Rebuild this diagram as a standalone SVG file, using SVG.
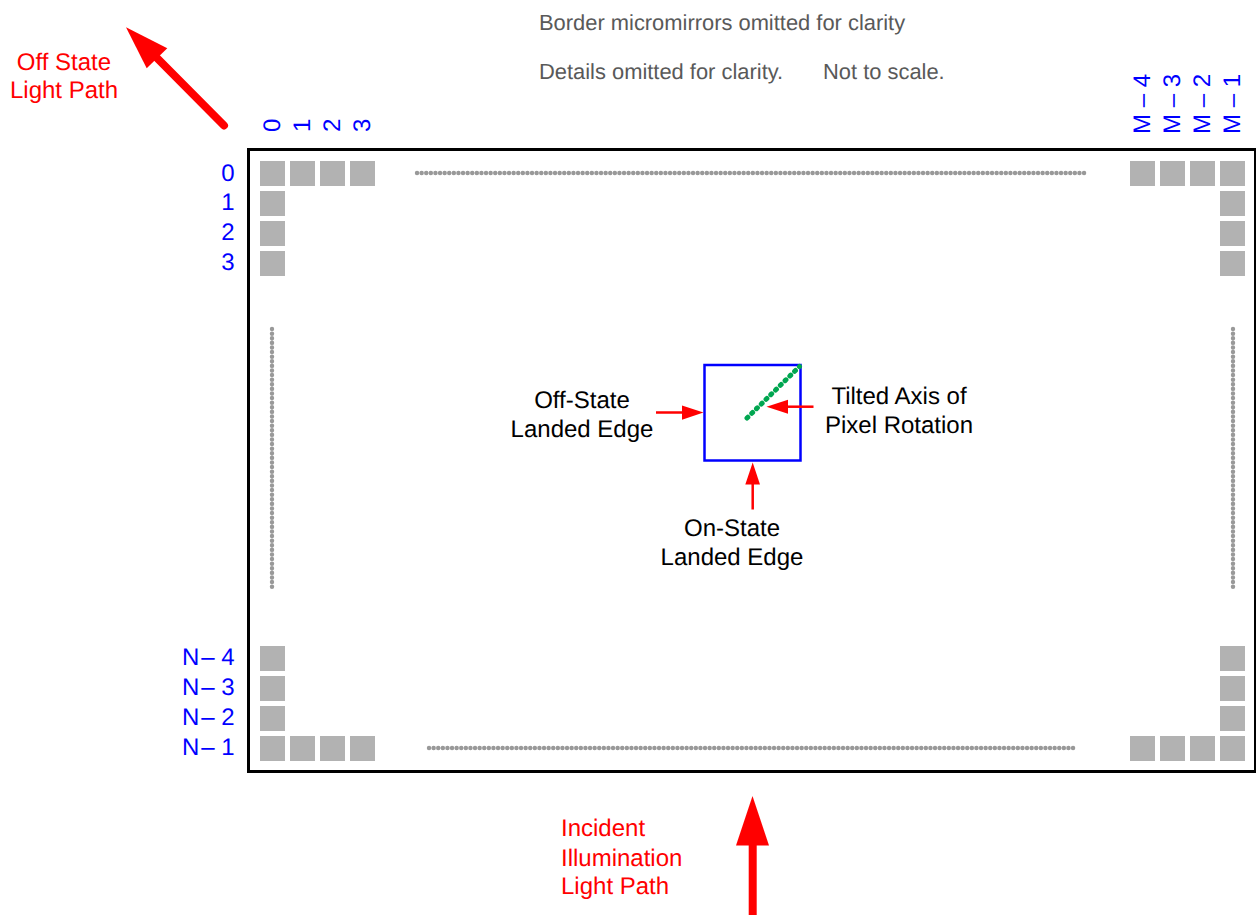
<svg xmlns="http://www.w3.org/2000/svg" width="1256" height="915" viewBox="0 0 1256 915">
<style>
text{font-family:"Liberation Sans",Arial,sans-serif;font-size:24px;text-rendering:geometricPrecision}
.b{fill:#0000ff}.r{fill:#ff0000}.k{fill:#000}.g{fill:#595959;font-size:21.900px}
.s{fill:#b2b2b2}
.d{fill:none;stroke:#999;stroke-width:4.400;stroke-linecap:round;stroke-dasharray:0.1 4.500}
.a{fill:#ff0000;stroke:none}
.l{stroke:#ff0000;fill:none}
</style>
<defs><rect id="m" class="s" width="25" height="25"/></defs>
<g id="notes">
<text class="g" x="539" y="30">Border micromirrors omitted for clarity</text>
<text class="g" x="539" y="79">Details omitted for clarity.</text>
<text class="g" x="823" y="79">Not to scale.</text>
</g>
<g id="frame"><rect x="248.500" y="149.500" width="1007" height="622" fill="#fff" stroke="#000" stroke-width="3"/></g>
<g id="mirrors">
<use href="#m" x="260" y="161"/><use href="#m" x="290" y="161"/><use href="#m" x="320" y="161"/><use href="#m" x="350" y="161"/>
<use href="#m" x="260" y="191"/><use href="#m" x="260" y="221"/><use href="#m" x="260" y="251"/>
<use href="#m" x="1130" y="161"/><use href="#m" x="1160" y="161"/><use href="#m" x="1190" y="161"/><use href="#m" x="1220" y="161"/>
<use href="#m" x="1220" y="191"/><use href="#m" x="1220" y="221"/><use href="#m" x="1220" y="251"/>
<use href="#m" x="260" y="646"/><use href="#m" x="260" y="676"/><use href="#m" x="260" y="706"/>
<use href="#m" x="260" y="736"/><use href="#m" x="290" y="736"/><use href="#m" x="320" y="736"/><use href="#m" x="350" y="736"/>
<use href="#m" x="1220" y="646"/><use href="#m" x="1220" y="676"/><use href="#m" x="1220" y="706"/>
<use href="#m" x="1130" y="736"/><use href="#m" x="1160" y="736"/><use href="#m" x="1190" y="736"/><use href="#m" x="1220" y="736"/>
</g>
<g id="dots">
<path class="d" d="M417 173H1085"/>
<path class="d" d="M429 748H1073.500"/>
<path class="d" d="M272 329V589.500"/>
<path class="d" d="M1233 329V589.500"/>
</g>
<g id="pixel">
<rect x="704.500" y="365" width="96" height="95.500" fill="none" stroke="#0000ff" stroke-width="2.500"/>
<path d="M747 418L799.500 366.500" fill="none" stroke="#00a650" stroke-width="5" stroke-linecap="round" stroke-dasharray="1.200 5.470"/>
</g>
<g id="connectors">
<path class="l" stroke-width="2.500" d="M656 412.500H684"/><path class="a" d="M682 405.500L703.500 412.500L682 419.700Z"/>
<path class="l" stroke-width="2.500" d="M813.500 406.700H786"/><path class="a" d="M788 399.700L766.500 406.700L788 413.700Z"/>
<path class="l" stroke-width="2.500" d="M752.700 509.500V482"/><path class="a" d="M745.300 484.500L752.700 462.500L760 484.500Z"/>
<path class="l" stroke-width="8" d="M752.700 915V843"/><path class="a" d="M736 845.500L752.500 796L769 845.500Z"/>
<path class="l" stroke-width="8" stroke-linecap="round" d="M224 125.500L157 58"/><path class="a" d="M126 27.300L167.300 48.300L146.700 68.300Z"/>
</g>
<g id="labels">
<text class="r" x="64" y="70" text-anchor="middle">Off State</text>
<text class="r" x="64" y="98" text-anchor="middle">Light Path</text>
<text class="k" x="582" y="408" text-anchor="middle">Off-State</text>
<text class="k" x="582" y="437" text-anchor="middle">Landed Edge</text>
<text class="k" x="899" y="404" text-anchor="middle">Tilted Axis of</text>
<text class="k" x="899" y="433" text-anchor="middle">Pixel Rotation</text>
<text class="k" x="732" y="536" text-anchor="middle">On-State</text>
<text class="k" x="732" y="565" text-anchor="middle">Landed Edge</text>
<text class="r" x="561" y="836">Incident</text>
<text class="r" x="561" y="866">Illumination</text>
<text class="r" x="561" y="894">Light Path</text>
</g>
<g id="rowlabels">
<text class="b" x="234.500" y="181" text-anchor="end">0</text>
<text class="b" x="234.500" y="210" text-anchor="end">1</text>
<text class="b" x="234.500" y="240" text-anchor="end">2</text>
<text class="b" x="234.500" y="270" text-anchor="end">3</text>
<text class="b" x="182" y="665">N</text><text class="b" x="234.500" y="665" text-anchor="end">– 4</text>
<text class="b" x="182" y="695">N</text><text class="b" x="234.500" y="695" text-anchor="end">– 3</text>
<text class="b" x="182" y="725">N</text><text class="b" x="234.500" y="725" text-anchor="end">– 2</text>
<text class="b" x="182" y="755">N</text><text class="b" x="234.500" y="755" text-anchor="end">– 1</text>
</g>
<g id="collabels">
<text class="b" transform="translate(279.500 132) rotate(-90)">0</text>
<text class="b" transform="translate(309.500 132) rotate(-90)">1</text>
<text class="b" transform="translate(339.500 132) rotate(-90)">2</text>
<text class="b" transform="translate(369.500 132) rotate(-90)">3</text>
<text class="b" transform="translate(1150 134) rotate(-90)">M – 4</text>
<text class="b" transform="translate(1180 134) rotate(-90)">M – 3</text>
<text class="b" transform="translate(1210 134) rotate(-90)">M – 2</text>
<text class="b" transform="translate(1240 134) rotate(-90)">M – 1</text>
</g>
</svg>
